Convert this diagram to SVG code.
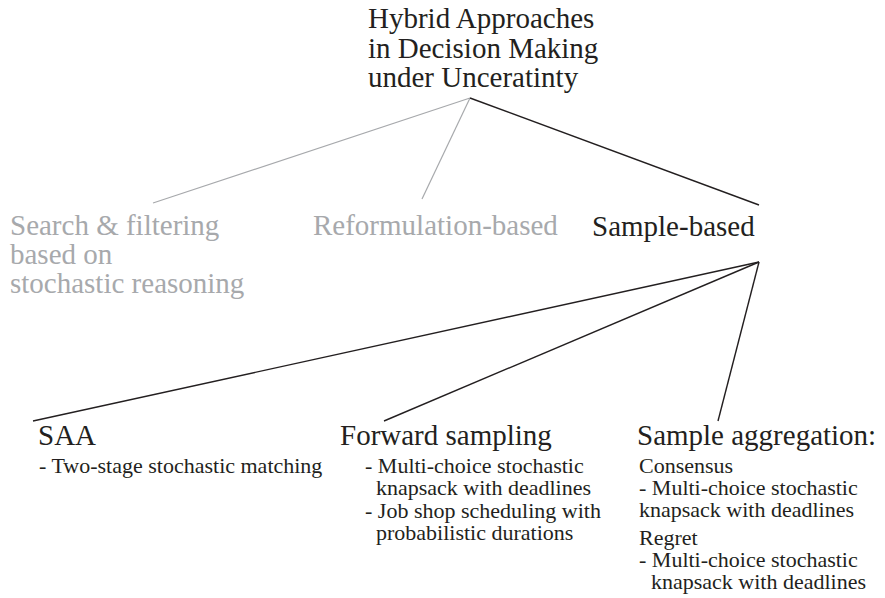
<svg xmlns="http://www.w3.org/2000/svg" width="885" height="598" viewBox="0 0 885 598">
<style>
text{fill:#231f20;font-family:'Liberation Serif','Times New Roman',serif}
.big{font-size:29px}
.small{font-size:22px}
.gray{fill:#a7a9ac}
.lg{stroke:#a7a9ac;stroke-width:1.2;fill:none}
.lb{stroke:#231f20;stroke-width:1.4;fill:none}
</style>
<rect width="885" height="598" fill="#fff"/>
<g id="connectors">
<line class="lg" x1="470" y1="98" x2="153" y2="203"/>
<line class="lg" x1="470" y1="98" x2="422" y2="199"/>
<line class="lb" x1="470" y1="98" x2="759" y2="205"/>
<line class="lb" x1="759" y1="262" x2="33" y2="421"/>
<line class="lb" x1="759" y1="262" x2="384" y2="421"/>
<line class="lb" x1="759" y1="262" x2="718" y2="421"/>
</g>
<g id="root">
<text class="big" x="368" y="28">Hybrid Approaches</text>
<text class="big" x="368" y="58">in Decision Making</text>
<text class="big" x="368" y="87">under Unceratinty</text>
</g>
<g id="search">
<text class="big gray" x="10" y="235">Search &amp; filtering</text>
<text class="big gray" x="10" y="264">based on</text>
<text class="big gray" x="10" y="293">stochastic reasoning</text>
</g>
<g id="reformulation">
<text class="big gray" x="313" y="235">Reformulation-based</text>
</g>
<g id="sample">
<text class="big" x="592" y="236">Sample-based</text>
</g>
<g id="saa">
<text class="big" x="38" y="445">SAA</text>
<text class="small" x="39" y="473">- Two-stage stochastic matching</text>
</g>
<g id="forward">
<text class="big" x="340" y="445">Forward sampling</text>
<text class="small" x="365" y="473">- Multi-choice stochastic</text>
<text class="small" x="376" y="495">knapsack with deadlines</text>
<text class="small" x="365" y="518">- Job shop scheduling with</text>
<text class="small" x="376" y="540">probabilistic durations</text>
</g>
<g id="aggregation">
<text class="big" x="637" y="445">Sample aggregation:</text>
<text class="small" x="639" y="473">Consensus</text>
<text class="small" x="639" y="495">- Multi-choice stochastic</text>
<text class="small" x="639" y="517">knapsack with deadlines</text>
<text class="small" x="639" y="545">Regret</text>
<text class="small" x="639" y="567">- Multi-choice stochastic</text>
<text class="small" x="651" y="589">knapsack with deadlines</text>
</g>
</svg>
